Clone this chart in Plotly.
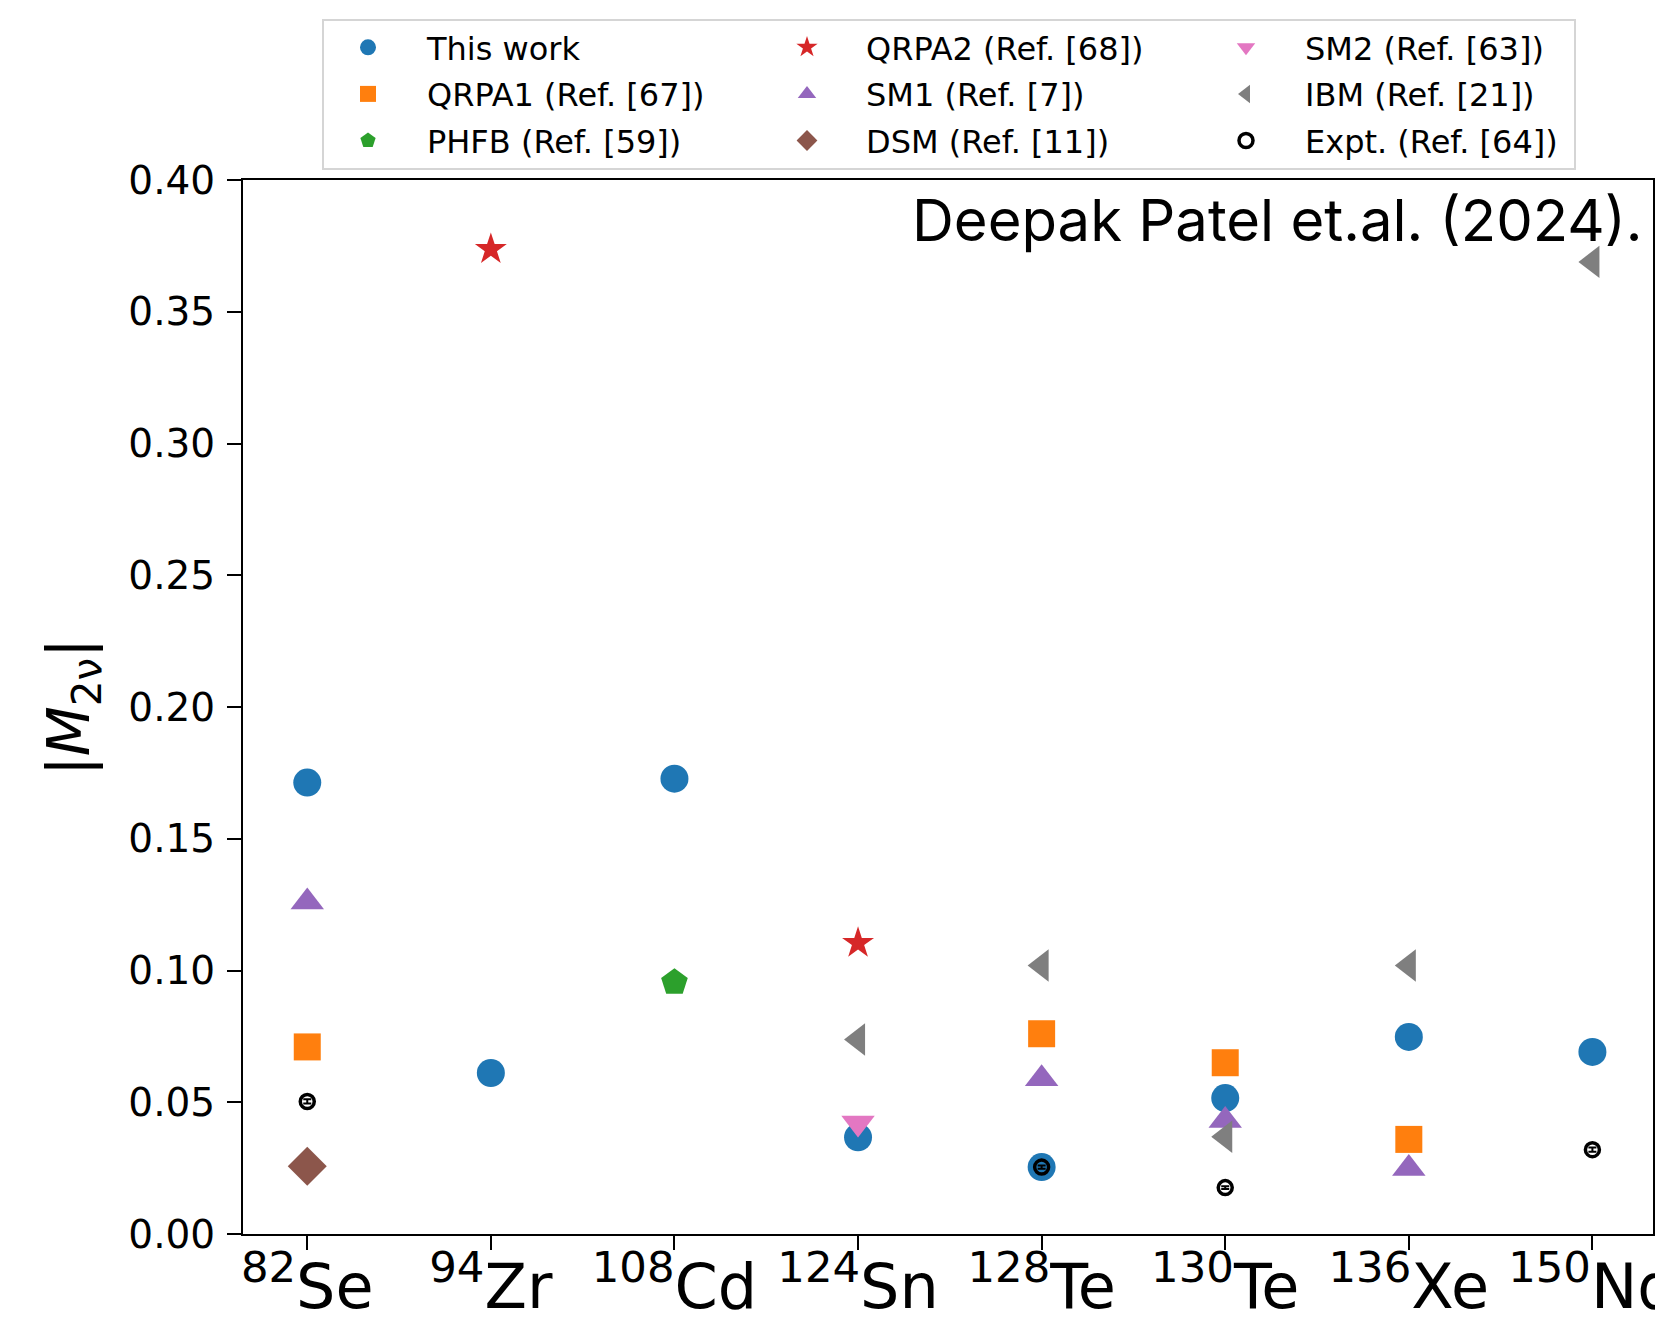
import plotly.graph_objects as go

# ---------------- data ----------------
nuclei = ["82Se", "94Zr", "108Cd", "124Sn", "128Te", "130Te", "136Xe", "150Nd"]
mass_numbers = ["82", "94", "108", "124", "128", "130", "136", "150"]
symbols = ["Se", "Zr", "Cd", "Sn", "Te", "Te", "Xe", "Nd"]

this_work_x = ["82Se", "94Zr", "108Cd", "124Sn", "128Te", "130Te", "136Xe", "150Nd"]
this_work_y = [0.1713, 0.0611, 0.1728, 0.0367, 0.0254, 0.0516, 0.0748, 0.0691]

qrpa1_x = ["82Se", "128Te", "130Te", "136Xe"]
qrpa1_y = [0.0710, 0.0760, 0.0650, 0.0359]

phfb_x = ["108Cd"]
phfb_y = [0.0955]

qrpa2_x = ["94Zr", "124Sn"]
qrpa2_y = [0.3737, 0.1104]

sm1_x = ["82Se", "128Te", "130Te", "136Xe"]
sm1_y = [0.1260, 0.0589, 0.0431, 0.0249]

dsm_x = ["82Se"]
dsm_y = [0.0257]

sm2_x = ["124Sn"]
sm2_y = [0.0421]

ibm_x = ["124Sn", "128Te", "130Te", "136Xe", "150Nd"]
ibm_y = [0.0738, 0.1019, 0.0369, 0.1019, 0.3689]

expt_x = ["82Se", "128Te", "130Te", "150Nd"]
expt_y = [0.0503, 0.0254, 0.0176, 0.0320]
expt_err = [0.0008, 0.0006, 0.0005, 0.0008]

tick_text = [f"<sup>{m}</sup>{s}" for m, s in zip(mass_numbers, symbols)]

# ---------------- figure ----------------
W, H = 1655, 1318
ML, MR, MT, MB = 243, 2, 180, 84
PW, PH = W - ML - MR, H - MT - MB

def px_x(p):
    return (p - ML) / PW

def px_y(p):
    return (H - MB - p) / PH

FONT = "DejaVu Sans"

fig = go.Figure()

series = [
    ("This work", this_work_x, this_work_y, "circle", "#1f77b4", 28, "legend"),
    ("QRPA1 (Ref. [67])", qrpa1_x, qrpa1_y, "square", "#ff7f0e", 27, "legend"),
    ("PHFB (Ref. [59])", phfb_x, phfb_y, "pentagon", "#2ca02c", 28, "legend"),
    ("QRPA2 (Ref. [68])", qrpa2_x, qrpa2_y, "star", "#d62728", 24, "legend2"),
    ("SM1 (Ref. [7])", sm1_x, sm1_y, "triangle-up", "#9467bd", 29, "legend2"),
    ("DSM (Ref. [11])", dsm_x, dsm_y, "diamond", "#8c564b", 30, "legend2"),
    ("SM2 (Ref. [63])", sm2_x, sm2_y, "triangle-down", "#e377c2", 29, "legend3"),
    ("IBM (Ref. [21])", ibm_x, ibm_y, "triangle-left", "#7f7f7f", 28, "legend3"),
]

for name, xs, ys, sym, col, size, lg in series:
    fig.add_trace(go.Scatter(
        x=xs, y=ys, mode="markers", name=name, legend=lg, legendgroup=name,
        marker=dict(symbol=sym, color=col, size=size, line=dict(width=0)),
        cliponaxis=False,
    ))

fig.add_trace(go.Scatter(
    x=expt_x, y=expt_y, mode="markers", name="Expt. (Ref. [64])",
    legend="legend3", legendgroup="expt",
    marker=dict(symbol="circle-open", color="black", size=14, line=dict(width=3.5, color="black")),
    error_y=dict(type="data", array=expt_err, color="black", thickness=2, width=4, visible=True),
    cliponaxis=False,
))

fig.add_annotation(
    text="Deepak Patel et.al. (2024).", xref="paper", yref="paper",
    x=px_x(1645), y=px_y(183), xanchor="right", yanchor="top",
    showarrow=False, font=dict(family="Inter", size=58, color="black"),
)

# legend frame
fig.add_shape(type="rect", xref="paper", yref="paper",
              x0=px_x(323), x1=px_x(1575), y0=px_y(169), y1=px_y(20),
              line=dict(color="#d5d5d5", width=2), fillcolor="rgba(255,255,255,0.8)",
              layer="below")

leg_common = dict(
    orientation="v", xanchor="left", yanchor="top",
    bgcolor="rgba(0,0,0,0)", borderwidth=0,
    font=dict(family=FONT, size=32, color="black"),
    tracegroupgap=2, itemsizing="trace", itemwidth=108,
)

fig.update_layout(
    width=W, height=H,
    margin=dict(l=ML, r=MR, t=MT, b=MB, autoexpand=False),
    paper_bgcolor="white", plot_bgcolor="white",
    font=dict(family=FONT, color="black"),
    legend=dict(x=px_x(309), y=px_y(20), **leg_common),
    legend2=dict(x=px_x(748), y=px_y(20), **leg_common),
    legend3=dict(x=px_x(1187), y=px_y(20), **leg_common),
    xaxis=dict(
        type="category", categoryorder="array", categoryarray=nuclei,
        tickmode="array", tickvals=nuclei, ticktext=tick_text,
        range=[-0.35, 7.33],
        showgrid=False, zeroline=False,
        showline=True, linecolor="black", linewidth=2, mirror=True,
        ticks="outside", ticklen=14, tickwidth=2, tickcolor="black",
        tickfont=dict(family=FONT, size=62, color="black"),
        ticklabelstandoff=-16,
    ),
    yaxis=dict(
        range=[0, 0.40], tickmode="array",
        tickvals=[0, 0.05, 0.10, 0.15, 0.20, 0.25, 0.30, 0.35, 0.40],
        ticktext=["0.00", "0.05", "0.10", "0.15", "0.20", "0.25", "0.30", "0.35", "0.40"],
        showgrid=False, zeroline=False,
        showline=True, linecolor="black", linewidth=2, mirror=True,
        ticks="outside", ticklen=14, tickwidth=2, tickcolor="black",
        tickfont=dict(family=FONT, size=39, color="black"),
        ticklabelstandoff=4,
        title=dict(text="|<i>M</i><sub>2ν</sub>|", font=dict(family=FONT, size=58, color="black"),
                   standoff=20),
    ),
)

fig.write_html("out.html")
